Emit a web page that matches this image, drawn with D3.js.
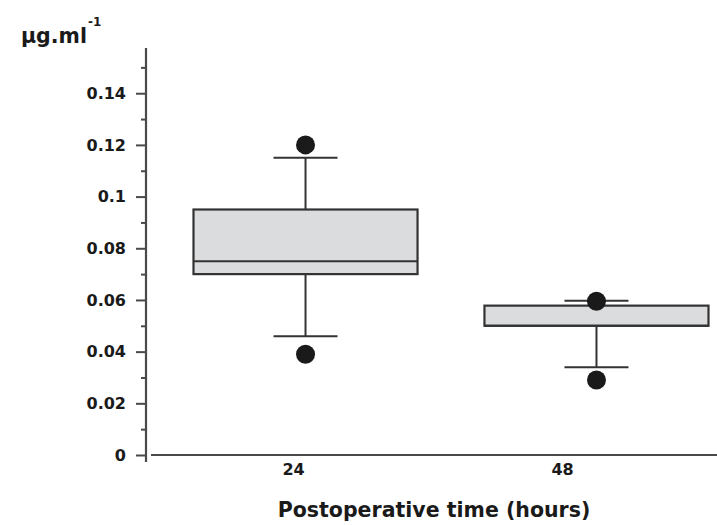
<!DOCTYPE html>
<html>
<head>
<meta charset="utf-8">
<script src="https://cdn.jsdelivr.net/npm/d3@7"></script>
<style>
  body { margin: 0; background: #fff; }
  text { font-family: "DejaVu Sans", sans-serif; font-weight: bold; fill: #1a1a1a; }
</style>
</head>
<body>
<div id="chart"></div>
<script>
// data
var categories = ["24", "48"];
var hours = [24, 48];
var lowWhisker = [0.046, 0.034];
var q1 = [0.070, 0.050];
var median = [0.075, 0.050];
var q3 = [0.095, 0.0578];
var highWhisker = [0.115, 0.0597];
var outliers = [[0.039, 0.12], [0.029, 0.0595]];
var yMajor = [0, 0.02, 0.04, 0.06, 0.08, 0.1, 0.12, 0.14];
var yMinor = [0.01, 0.03, 0.05, 0.07, 0.09, 0.11, 0.13, 0.15];

var width = 717, height = 525;
var axisColor = "#4a4a4a";

var svg = d3.select("#chart").append("svg")
    .attr("width", width)
    .attr("height", height);

// scales
var y = d3.scaleLinear()
    .domain([0, 0.1575])
    .range([455, 48]);

var x = d3.scaleBand()
    .domain(categories)
    .range([193.5, 708.5])
    .paddingInner(0.23)
    .paddingOuter(0);

var xHours = d3.scaleLinear()
    .domain([24, 48])
    .range([293, 562]);

// y axis: minor ticks
svg.append("g")
    .attr("transform", "translate(146,0)")
    .call(d3.axisLeft(y).tickValues(yMinor).tickSize(5).tickSizeOuter(0).tickFormat(""))
    .call(function(g) { g.select(".domain").remove(); })
    .selectAll("line").attr("stroke", axisColor).attr("stroke-width", 2);

// y axis: major ticks + labels
var yAxis = svg.append("g")
    .attr("transform", "translate(146,0)")
    .call(d3.axisLeft(y).tickValues(yMajor).tickSize(10).tickPadding(10).tickSizeOuter(0)
          .tickFormat(function(d) { return d === 0 ? "0" : d3.format("")(+d.toFixed(2)); }))
    .call(function(g) { g.select(".domain").remove(); });
yAxis.selectAll("line").attr("stroke", axisColor).attr("stroke-width", 2);
yAxis.selectAll("text").style("font-size", "16px").style("font-family", "DejaVu Sans").style("font-weight", "bold");

svg.append("line")
    .attr("x1", 146).attr("x2", 146)
    .attr("y1", 48).attr("y2", 462)
    .attr("stroke", axisColor).attr("stroke-width", 2.2);

// x axis
svg.append("line")
    .attr("x1", 151).attr("x2", width)
    .attr("y1", y(0)).attr("y2", y(0))
    .attr("stroke", axisColor).attr("stroke-width", 2.2);

var xAxis = svg.append("g")
    .attr("transform", "translate(0," + y(0) + ")")
    .call(d3.axisBottom(xHours).tickValues(hours).tickSize(0).tickPadding(9).tickFormat(d3.format("d")))
    .call(function(g) { g.select(".domain").remove(); });
xAxis.selectAll("text").style("font-size", "16px").style("font-family", "DejaVu Sans").style("font-weight", "bold");

// boxes
var data = categories.map(function(c, i) {
  return { cat: c, lo: lowWhisker[i], q1: q1[i], med: median[i], q3: q3[i], hi: highWhisker[i], out: outliers[i] };
});

var capW = 64;
var boxes = svg.selectAll(".box")
    .data(data)
  .enter().append("g")
    .attr("class", "box");

// whiskers (vertical stems)
boxes.append("line")
    .attr("x1", function(d) { return x(d.cat) + x.bandwidth() / 2; })
    .attr("x2", function(d) { return x(d.cat) + x.bandwidth() / 2; })
    .attr("y1", function(d) { return y(d.hi); })
    .attr("y2", function(d) { return y(d.lo); })
    .attr("stroke", "#333").attr("stroke-width", 2);

// caps
["hi", "lo"].forEach(function(k) {
  boxes.append("line")
      .attr("x1", function(d) { return x(d.cat) + x.bandwidth() / 2 - capW / 2; })
      .attr("x2", function(d) { return x(d.cat) + x.bandwidth() / 2 + capW / 2; })
      .attr("y1", function(d) { return y(d[k]); })
      .attr("y2", function(d) { return y(d[k]); })
      .attr("stroke", "#333").attr("stroke-width", 2);
});

boxes.append("rect")
    .attr("x", function(d) { return x(d.cat); })
    .attr("width", x.bandwidth())
    .attr("y", function(d) { return y(d.q3); })
    .attr("height", function(d) { return y(d.q1) - y(d.q3); })
    .attr("fill", "#dbdcde")
    .attr("stroke", "#333").attr("stroke-width", 2.2);

boxes.append("line")
    .attr("x1", function(d) { return x(d.cat); })
    .attr("x2", function(d) { return x(d.cat) + x.bandwidth(); })
    .attr("y1", function(d) { return y(d.med); })
    .attr("y2", function(d) { return y(d.med); })
    .attr("stroke", "#333").attr("stroke-width", 2);

// outlier dots
boxes.selectAll(".dot")
    .data(function(d) { return d.out.map(function(v) { return { cat: d.cat, v: v }; }); })
  .enter().append("circle")
    .attr("class", "dot")
    .attr("cx", function(d) { return x(d.cat) + x.bandwidth() / 2; })
    .attr("cy", function(d) { return y(d.v); })
    .attr("r", 9.5)
    .attr("fill", "#1a1a1a");

// unit label
var unit = svg.append("text")
    .attr("x", 21)
    .attr("y", 43)
    .style("font-size", "20.5px");
unit.append("tspan").text("µg.ml");
unit.append("tspan")
    .attr("dy", -17)
    .attr("dx", 1)
    .style("font-size", "12px")
    .text("-1");

// axis title
svg.append("text")
    .attr("x", 434)
    .attr("y", 517)
    .attr("text-anchor", "middle")
    .style("font-size", "20.5px")
    .text("Postoperative time (hours)");
</script>
</body>
</html>
